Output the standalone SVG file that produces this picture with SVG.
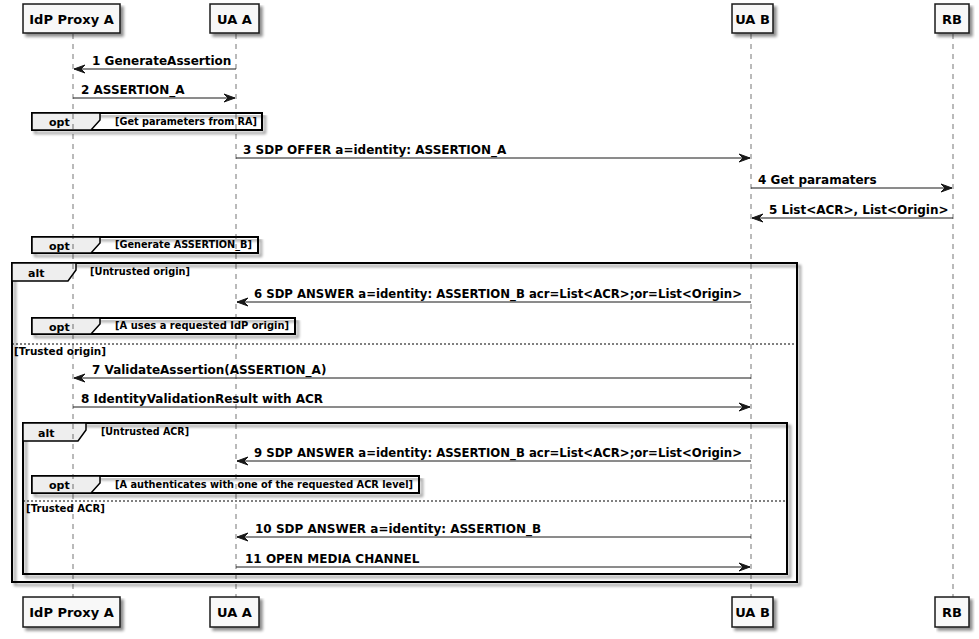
<svg xmlns="http://www.w3.org/2000/svg" width="979" height="639" viewBox="0 0 979 639">
<defs>
<filter id="sh" x="-5%" y="-5%" width="120%" height="150%">
<feGaussianBlur in="SourceAlpha" stdDeviation="1.8"/>
<feOffset dx="3" dy="3" result="b"/>
<feComponentTransfer><feFuncA type="linear" slope="0.45"/></feComponentTransfer>
<feMerge><feMergeNode/><feMergeNode in="SourceGraphic"/></feMerge>
</filter>
<marker id="ah" viewBox="0 0 12 10" refX="11" refY="5" markerWidth="12" markerHeight="10" markerUnits="userSpaceOnUse" orient="auto">
<polygon points="0,1 11,5 0,9 4,5" fill="#181818" stroke="#181818" stroke-width="1"/>
</marker>
</defs>
<style>
.pbox{fill:#F8F8F8;stroke:#181818;stroke-width:1.5;}
.pt{font-family:"DejaVu Sans",sans-serif;font-weight:bold;font-size:13px;fill:#000;text-anchor:middle;}
.life{stroke:#181818;stroke-width:0.6;stroke-dasharray:5,5;fill:none;}
.msg{stroke:#181818;stroke-width:1;fill:none;marker-end:url(#ah);}
.mt{font-family:"DejaVu Sans",sans-serif;font-weight:bold;font-size:12px;fill:#000;}
.frame{fill:none;stroke:#000;stroke-width:2;}
.tab{fill:#EEEEEE;stroke:#000;stroke-width:1.5;}
.tt{font-family:"DejaVu Sans",sans-serif;font-weight:bold;font-size:11px;fill:#000;}
.gl{font-family:"DejaVu Sans",sans-serif;font-weight:bold;font-size:9.7px;fill:#000;}
.sep{stroke:#000;stroke-width:1;stroke-dasharray:2,2;}
</style>

<g id="groups">
<g id="opt1">
<rect class="frame" x="32" y="113" width="230" height="17" filter="url(#sh)"/>
<polygon class="tab" points="32,113 100,113 100,120 91,130 32,130"/>
<text class="tt" x="49" y="126">opt</text>
<text class="gl" x="115" y="125" textLength="142" lengthAdjust="spacingAndGlyphs">[Get parameters from RA]</text>
</g>
<g id="opt2">
<rect class="frame" x="32" y="237" width="226" height="16" filter="url(#sh)"/>
<polygon class="tab" points="32,237 100,237 100,243 91,253 32,253"/>
<text class="tt" x="49" y="250">opt</text>
<text class="gl" x="115" y="248" textLength="137" lengthAdjust="spacingAndGlyphs">[Generate ASSERTION_B]</text>
</g>
<g id="altOuter">
<rect class="frame" x="12" y="263" width="785" height="319" filter="url(#sh)"/>
<polygon class="tab" points="12,263 76,263 76,270 68,281 12,281"/>
<text class="tt" x="28" y="277">alt</text>
<text class="gl" x="90" y="275" textLength="100" lengthAdjust="spacingAndGlyphs">[Untrusted origin]</text>
<line class="sep" x1="12" y1="344" x2="797" y2="344"/>
<text class="gl" x="14" y="355" textLength="92" lengthAdjust="spacingAndGlyphs">[Trusted origin]</text>
</g>
<g id="opt3">
<rect class="frame" x="32" y="318" width="263" height="16" filter="url(#sh)"/>
<polygon class="tab" points="32,318 100,318 100,324 91,334 32,334"/>
<text class="tt" x="49" y="331">opt</text>
<text class="gl" x="115" y="329" textLength="174" lengthAdjust="spacingAndGlyphs">[A uses a requested IdP origin]</text>
</g>
<g id="altInner">
<rect class="frame" x="23" y="423" width="764" height="151" filter="url(#sh)"/>
<polygon class="tab" points="23,423 86,423 86,430 78,441 23,441"/>
<text class="tt" x="38" y="437">alt</text>
<text class="gl" x="101" y="435" textLength="88" lengthAdjust="spacingAndGlyphs">[Untrusted ACR]</text>
<line class="sep" x1="23" y1="501" x2="787" y2="501"/>
<text class="gl" x="26" y="512" textLength="79" lengthAdjust="spacingAndGlyphs">[Trusted ACR]</text>
</g>
<g id="opt4">
<rect class="frame" x="32" y="476" width="387" height="17" filter="url(#sh)"/>
<polygon class="tab" points="32,476 100,476 100,483 91,493 32,493"/>
<text class="tt" x="49" y="489">opt</text>
<text class="gl" x="115" y="488" textLength="298" lengthAdjust="spacingAndGlyphs">[A authenticates with one of the requested ACR level]</text>
</g>
</g>

<g id="lifelines">
<line class="life" x1="73" y1="34" x2="73" y2="597"/>
<line class="life" x1="236" y1="34" x2="236" y2="597"/>
<line class="life" x1="751" y1="34" x2="751" y2="597"/>
<line class="life" x1="953" y1="34" x2="953" y2="597"/>
</g>

<g id="p-idp">
<rect class="pbox" x="23" y="4" width="97" height="29" filter="url(#sh)"/>
<text class="pt" x="71.5" y="23.5">IdP Proxy A</text>
<rect class="pbox" x="23" y="597" width="97" height="30" filter="url(#sh)"/>
<text class="pt" x="71.5" y="617">IdP Proxy A</text>
</g>
<g id="p-uaa">
<rect class="pbox" x="210" y="4" width="49" height="29" filter="url(#sh)"/>
<text class="pt" x="234.5" y="23.5">UA A</text>
<rect class="pbox" x="210" y="597" width="49" height="30" filter="url(#sh)"/>
<text class="pt" x="234.5" y="617">UA A</text>
</g>
<g id="p-uab">
<rect class="pbox" x="732" y="4" width="41" height="29" filter="url(#sh)"/>
<text class="pt" x="752.5" y="23.5">UA B</text>
<rect class="pbox" x="732" y="597" width="41" height="30" filter="url(#sh)"/>
<text class="pt" x="752.5" y="617">UA B</text>
</g>
<g id="p-rb">
<rect class="pbox" x="935" y="4" width="34" height="29" filter="url(#sh)"/>
<text class="pt" x="952" y="23.5">RB</text>
<rect class="pbox" x="935" y="597" width="34" height="30" filter="url(#sh)"/>
<text class="pt" x="952" y="617">RB</text>
</g>

<g id="connectors">
<line class="msg" x1="236" y1="69" x2="74" y2="69"/>
<text class="mt" x="92" y="65">1 GenerateAssertion</text>
<line class="msg" x1="73" y1="98" x2="235" y2="98"/>
<text class="mt" x="81" y="94">2 ASSERTION_A</text>
<line class="msg" x1="236" y1="158" x2="750" y2="158"/>
<text class="mt" x="243" y="154">3 SDP OFFER a=identity: ASSERTION_A</text>
<line class="msg" x1="751" y1="188" x2="952" y2="188"/>
<text class="mt" x="758" y="184">4 Get paramaters</text>
<line class="msg" x1="953" y1="218" x2="752" y2="218"/>
<text class="mt" x="769" y="214">5 List&lt;ACR&gt;, List&lt;Origin&gt;</text>
<line class="msg" x1="751" y1="302" x2="237" y2="302"/>
<text class="mt" x="254" y="298" textLength="488" lengthAdjust="spacingAndGlyphs">6 SDP ANSWER a=identity: ASSERTION_B acr=List&lt;ACR&gt;;or=List&lt;Origin&gt;</text>
<line class="msg" x1="751" y1="378" x2="74" y2="378"/>
<text class="mt" x="92" y="374">7 ValidateAssertion(ASSERTION_A)</text>
<line class="msg" x1="73" y1="407" x2="750" y2="407"/>
<text class="mt" x="81" y="403">8 IdentityValidationResult with ACR</text>
<line class="msg" x1="751" y1="461" x2="237" y2="461"/>
<text class="mt" x="254" y="457" textLength="488" lengthAdjust="spacingAndGlyphs">9 SDP ANSWER a=identity: ASSERTION_B acr=List&lt;ACR&gt;;or=List&lt;Origin&gt;</text>
<line class="msg" x1="751" y1="537" x2="237" y2="537"/>
<text class="mt" x="255" y="533">10 SDP ANSWER a=identity: ASSERTION_B</text>
<line class="msg" x1="236" y1="567" x2="750" y2="567"/>
<text class="mt" x="245" y="563">11 OPEN MEDIA CHANNEL</text>
</g>
</svg>
